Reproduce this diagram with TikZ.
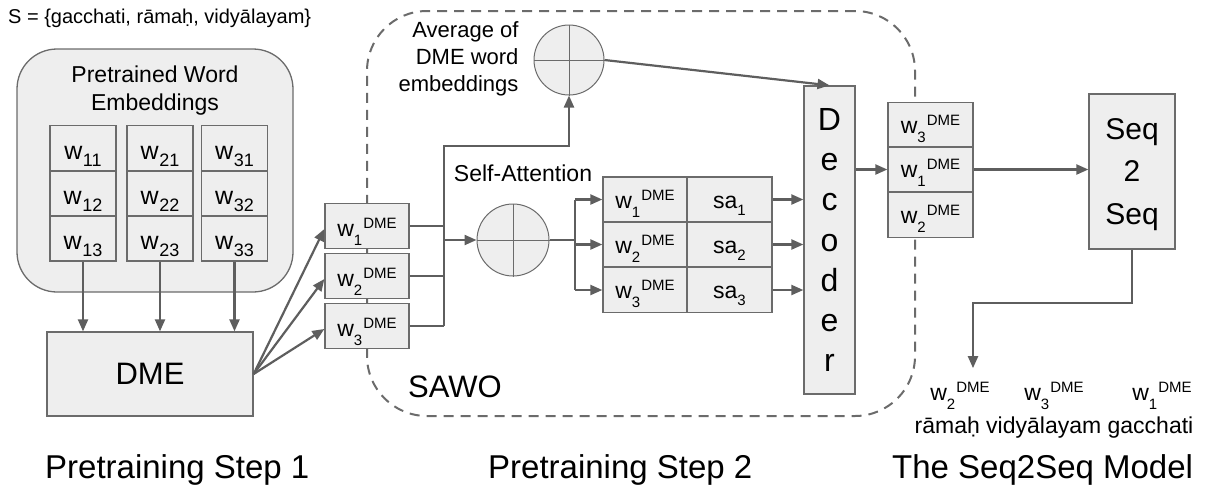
\documentclass[tikz,border=0pt]{standalone}
\usepackage{fontspec}
\setmainfont{Liberation Sans}
\usetikzlibrary{arrows.meta,calc}

\definecolor{boxfill}{HTML}{EEEEEE}
\definecolor{edge}{HTML}{6B6B6B}
\definecolor{wire}{HTML}{5E5E5E}

% word vectors with indices and the DME superscript
\newcommand\wij[1]{w\kern0.5pt\raisebox{-7pt}{\fontsize{18}{18}\selectfont #1}}
\newcommand\wdme[1]{w\raisebox{-9pt}{\fontsize{15}{15}\selectfont #1}\kern1pt\raisebox{8pt}{\fontsize{15}{15}\selectfont DME}}
\newcommand\sai[1]{sa\raisebox{-7pt}{\fontsize{15}{15}\selectfont #1}}

\tikzset{
  box/.style={draw=edge, fill=boxfill, line width=1.3pt, inner sep=0pt},
  container/.style={box, rounded corners=40pt},
  region/.style={draw=edge, line width=2pt, dash pattern=on 10pt off 7pt, rounded corners=60pt, inner sep=0pt},
  wcell/.style={box, minimum width=66pt, minimum height=45pt, font=\fontsize{25}{25}\selectfont, text height=26pt, text depth=4pt},
  dcell/.style={box, minimum width=84pt, minimum height=45pt, font=\fontsize{23}{23}\selectfont, text height=25pt, text depth=5pt},
  tcell/.style={box, minimum width=84pt, minimum height=45pt, font=\fontsize{23}{23}\selectfont, text height=23pt, text depth=6pt},
  ocell/.style={box, minimum width=85pt, minimum height=45pt, font=\fontsize{23}{23}\selectfont, text height=23pt, text depth=7pt},
  circ/.style={circle, draw=edge, fill=boxfill, line width=1pt, minimum size=70pt, inner sep=0pt},
  cross/.style={draw=edge, line width=1pt},
  wire/.style={draw=wire, line width=2.2pt},
  arrow/.style={wire, -{Triangle[length=12pt,width=10pt]}},
  outlab/.style={anchor=base, font=\fontsize{23}{23}\selectfont},
  caption/.style={anchor=base west, inner sep=0pt, font=\fontsize{33}{33}\selectfont},
}

\begin{document}
\begin{tikzpicture}[x=1pt,y=-1pt]
\useasboundingbox (0,0) rectangle (1206,488);

% the sentence
\node[anchor=base west, inner sep=0pt, font=\fontsize{20}{24}\selectfont] (sentence) at (8,23) {S = \{gacchati, rāmaḥ, vidyālayam\}};

% dashed SAWO region (drawn first so the boxes cover it)
\node[region, minimum width=548pt, minimum height=405pt] (sawo) at (641,213.5) {};
\node[font=\fontsize{31}{31}\selectfont] (sawolab) at (455,387) {SAWO};

% ---------- Pretraining step 1 ----------
\node[container, minimum width=276pt, minimum height=243pt] (pwe) at (155,170.5) {};
\node[font=\fontsize{23}{28}\selectfont, align=center] (pwetitle) at (155,91) {Pretrained Word\\Embeddings};
\foreach \c/\x in {1/83,2/160,3/234.5}
  \foreach \r/\y in {1/148,2/193.5,3/238.5}
    \node[wcell] (w\c\r) at (\x,\y) {\wij{\c\r}};

\node[box, minimum width=206pt, minimum height=84pt, font=\fontsize{31}{31}\selectfont] (dme) at (150,374) {DME};
\foreach \c in {1,2,3}
  \draw[arrow] (w\c3.south) -- (w\c3.south |- dme.north);

% ---------- Pretraining step 2 ----------
\foreach \i/\y in {1/226,2/276,3/326}
  \node[dcell] (d\i) at (367,\y) {\wdme{\i}};
\foreach \i in {1,2,3}
  \draw[arrow] (dme.east) -- ([yshift=-3pt]d\i.west);

\node[circ] (avg) at (569,60) {};
\draw[cross] (avg.north) -- (avg.south) (avg.west) -- (avg.east);
\node[font=\fontsize{22}{27}\selectfont, align=right, anchor=east] (avgtext) at (522,59) {Average of\\DME word\\embeddings};

\node[circ, minimum size=72pt] (sa) at (513,240) {};
\draw[cross] (sa.north) -- (sa.south) (sa.west) -- (sa.east);
\node[font=\fontsize{23}{23}\selectfont] (satext) at (523,173) {Self-Attention};

% gathering bus
\coordinate (bus) at (444,240);
\coordinate (bend) at (444,146);
\foreach \i in {1,2,3}
  \draw[wire] (d\i.east) -- (d\i.east -| bus);
\draw[arrow] (d3.east -| bus) -- (bend) -| (avg.south);
\draw[arrow] (bus) -- (sa.west);

% self-attention table
\foreach \i/\y in {1/199.5,2/244.5,3/290} {
  \node[tcell] (t\i) at (645,\y) {\wdme{\i}};
  \node[tcell, minimum width=85pt] (s\i) at (729.5,\y) {\sai{\i}};
}
\coordinate (split) at (575,240);
\draw[wire] (sa.east) -- (split);
\draw[wire] (split |- t1.west) -- (split |- t3.west);
\foreach \i in {1,2,3}
  \draw[arrow] (split |- t\i.west) -- (t\i.west);

% decoder
\node[box, minimum width=51pt, minimum height=308pt, font=\fontsize{32}{40.3}\selectfont, align=center] (dec) at (829.5,240) {D\\e\\c\\o\\d\\e\\r};
\foreach \i in {1,2,3}
  \draw[arrow] (s\i.east) -- (s\i.east -| dec.west);
\draw[arrow] (avg.east) -- (dec.north);

% ---------- The Seq2Seq model ----------
\foreach \i/\n/\y in {1/3/125,2/1/169.5,3/2/215}
  \node[ocell] (o\i) at (930.5,\y) {\wdme{\n}};
\draw[arrow] (dec.east |- o2.west) -- (o2.west);

\node[box, minimum width=86pt, minimum height=155pt, font=\fontsize{30}{42.5}\selectfont, align=center, text depth=0pt] (seq) at (1132,171.5) {Seq\\2\\Seq};
\draw[arrow] (o2.east) -- (seq.west |- o2.east);

\node[outlab] (r2) at (960,400) {\wdme{2}};
\node[outlab] (r3) at (1054,400) {\wdme{3}};
\node[outlab] (r1) at (1162,400) {\wdme{1}};
\node[outlab] (words) at (1054,433) {rāmaḥ vidyālayam gacchati};

\coordinate (turn) at (973,303);
\draw[arrow, shorten >=10pt] (seq.south) |- (turn) -- (turn |- r2.north);

% captions
\node[caption] (cap1) at (45,478) {Pretraining Step 1};
\node[caption] (cap2) at (488,478) {Pretraining Step 2};
\node[caption] (cap3) at (892,478) {The Seq2Seq Model};
\end{tikzpicture}
\end{document}
